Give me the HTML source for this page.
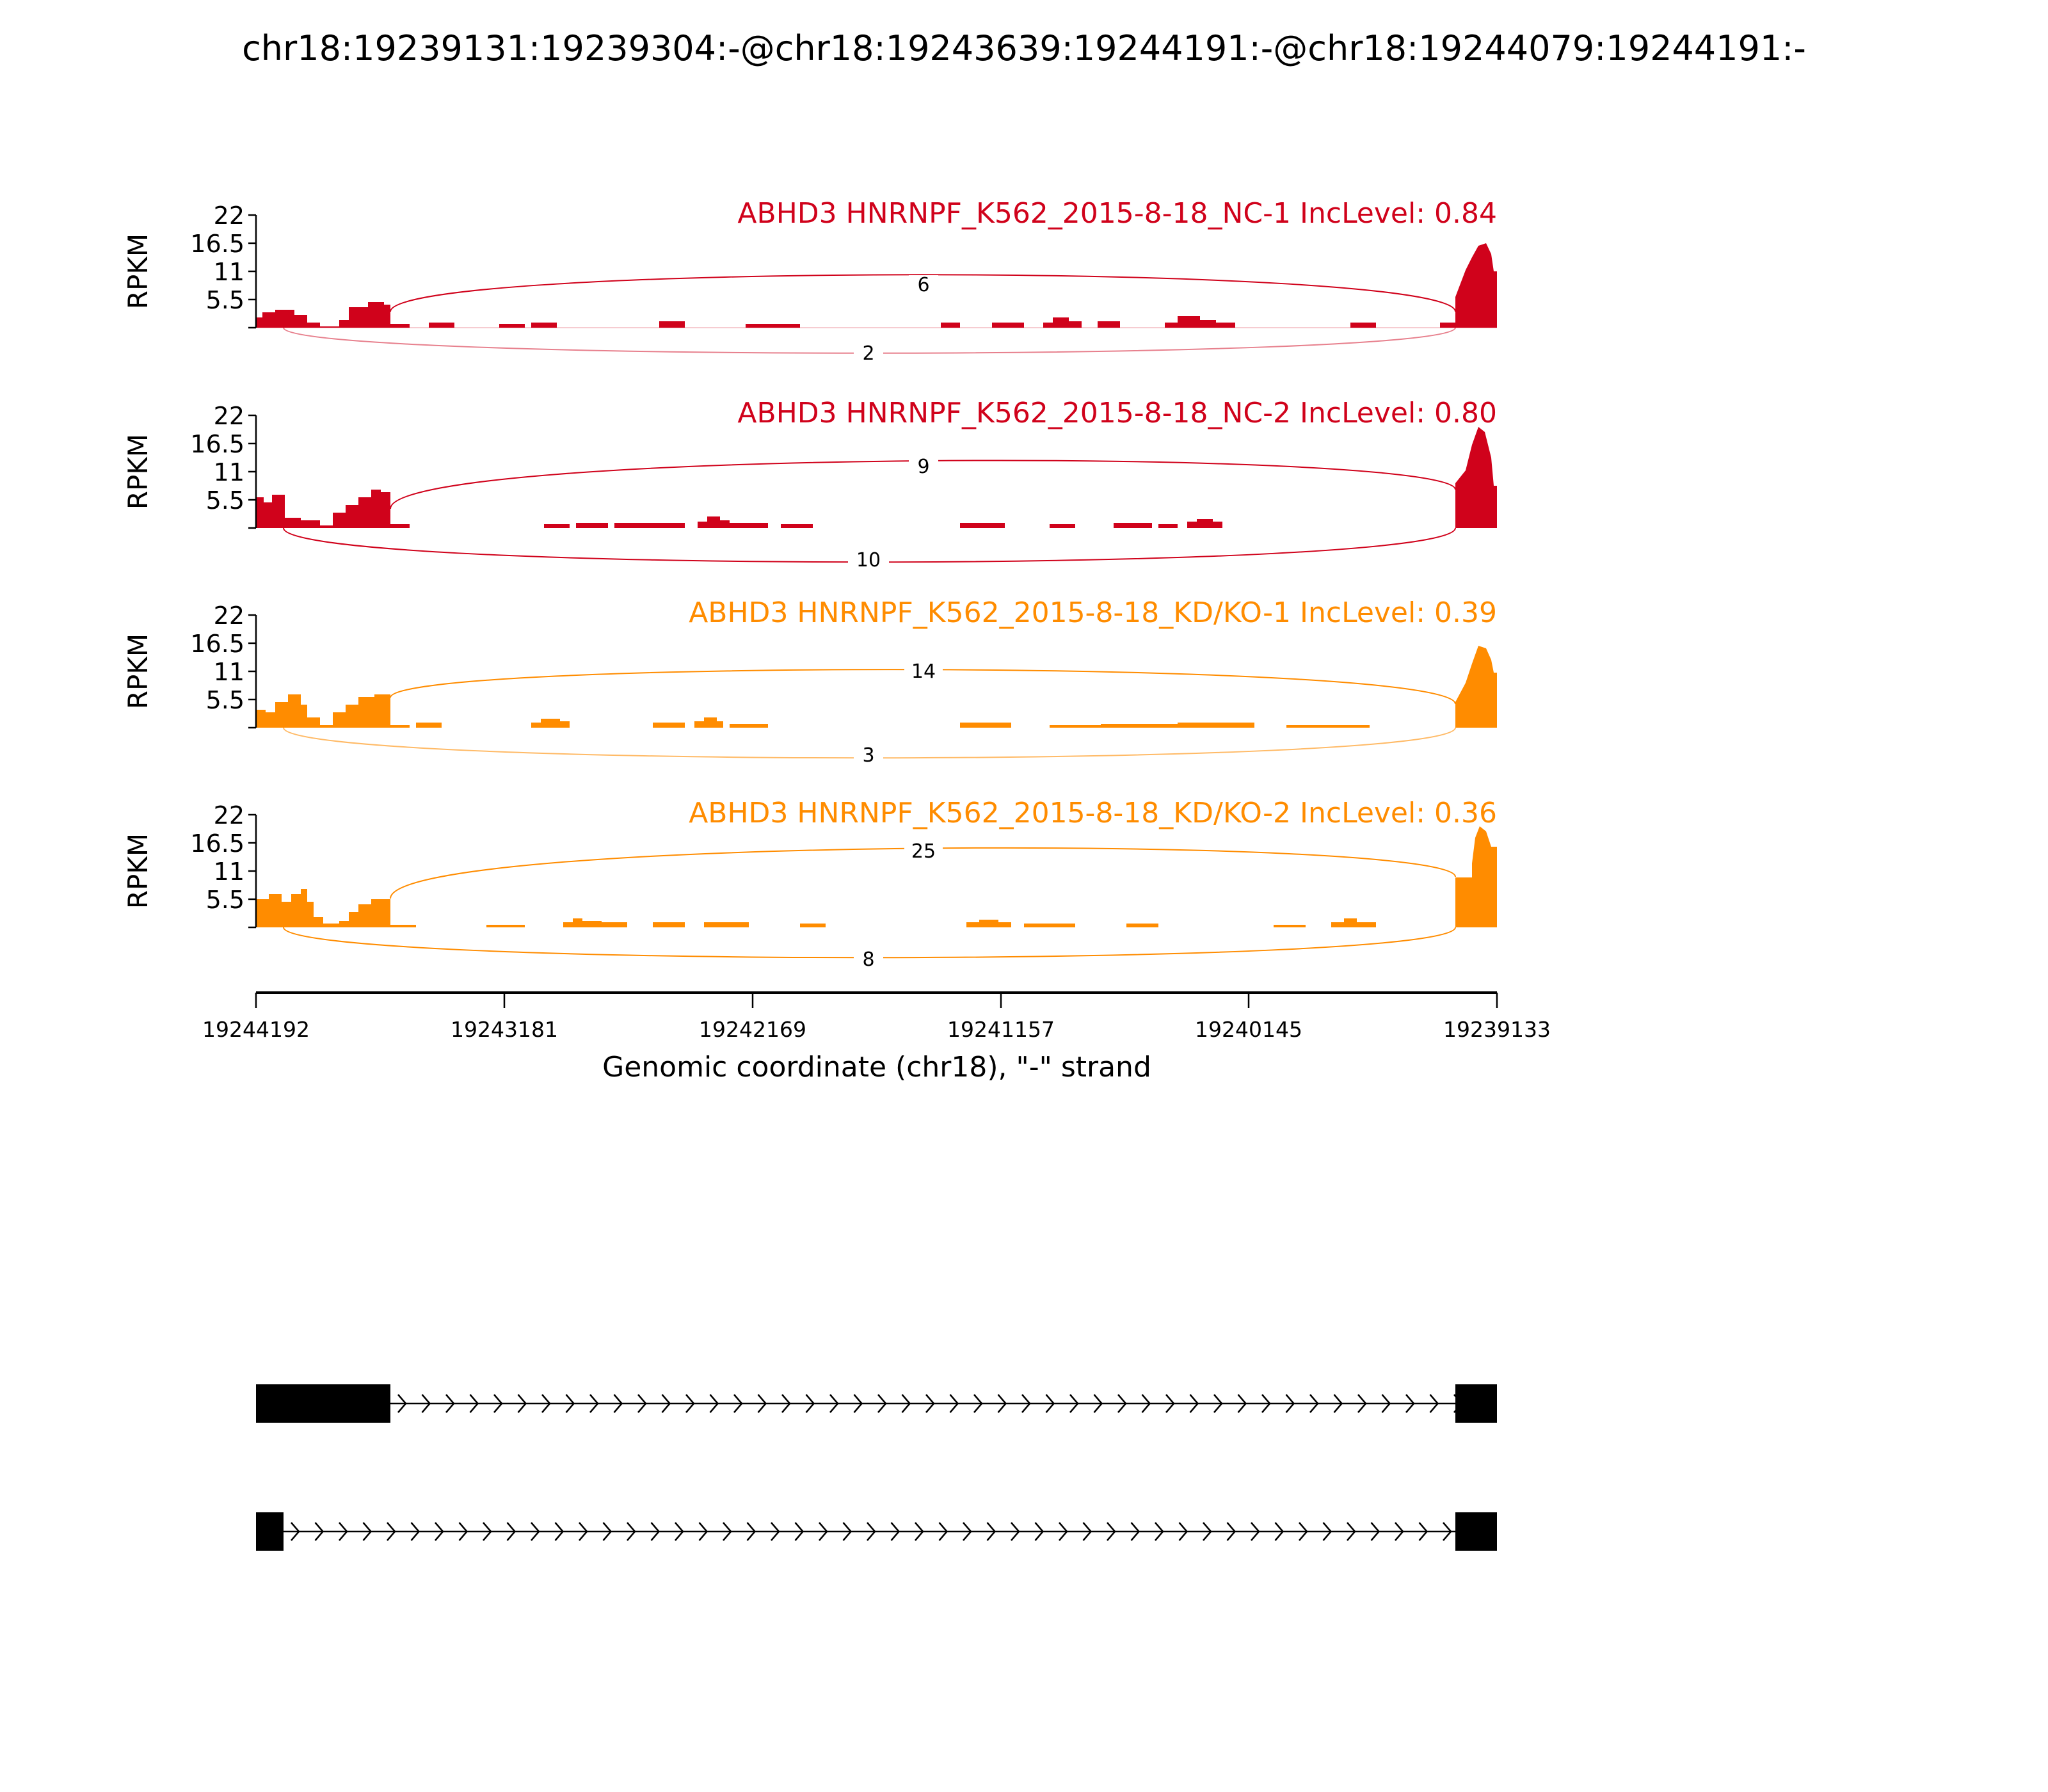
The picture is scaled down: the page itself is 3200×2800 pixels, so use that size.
<!DOCTYPE html>
<html><head><meta charset="utf-8"><style>html,body{margin:0;padding:0;background:#fff}svg{display:block}text{font-family:"DejaVu Sans","Liberation Sans",sans-serif}</style></head>
<body>
<svg xmlns="http://www.w3.org/2000/svg" width="3200" height="2800" viewBox="0 0 3200 2800">
<defs>
<pattern id="chev1" x="610" y="2173" width="37.5" height="40" patternUnits="userSpaceOnUse">
<path d="M12,6 L24,20 L12,34" fill="none" stroke="#000" stroke-width="2.5"/>
</pattern>
<pattern id="chev2" x="443" y="2373" width="37.5" height="40" patternUnits="userSpaceOnUse">
<path d="M12,6 L24,20 L12,34" fill="none" stroke="#000" stroke-width="2.5"/>
</pattern>
</defs>
<text x="1600" y="94" font-size="54" text-anchor="middle">chr18:19239131:19239304:-@chr18:19243639:19244191:-@chr18:19244079:19244191:-</text>

<!-- Panel 1 -->
<g transform="translate(0,512)" fill="#d0021b">
<path d="M400,0 V-16 H410 V-24 H430 V-28 H460 V-20 H480 V-8 H500 V-2 H530 V-12 H545 V-32 H575 V-40 H600 V-36 H610 V-6 H640 V0 Z"/>
<rect x="670" y="-8" width="40" height="8"/><rect x="780" y="-6" width="40" height="6"/><rect x="830" y="-8" width="40" height="8"/>
<rect x="1030" y="-10" width="40" height="10"/><rect x="1165" y="-6" width="85" height="6"/><rect x="1470" y="-8" width="30" height="8"/>
<rect x="1550" y="-8" width="50" height="8"/><path d="M1630,0 V-8 H1645 V-16 H1670 V-10 H1690 V0 Z"/><rect x="1715" y="-10" width="35" height="10"/>
<path d="M1820,0 V-8 H1840 V-18 H1875 V-12 H1900 V-8 H1930 V0 Z"/><rect x="2110" y="-8" width="40" height="8"/><rect x="2250" y="-8" width="24" height="8"/>
<path d="M2274,0 V-48 L2290,-90 L2300,-110 L2310,-128 L2322,-132 L2330,-115 L2334,-88 H2339 V0 Z"/>
<line x1="400" y1="0" x2="2339" y2="0" stroke="#d0021b" stroke-width="1" opacity="0.4"/>
</g>
<g fill="none" stroke="#d0021b" stroke-width="2">
<path d="M610,487 C610,410 2274,410 2274,487"/>
<path d="M443,512 C443,565 2274,565 2274,512" opacity="0.5"/>
</g>
<rect x="1420" y="430" width="46" height="30" fill="#fff"/><text x="1443" y="455" font-size="30" text-anchor="middle">6</text>
<rect x="1334" y="537" width="46" height="30" fill="#fff"/><text x="1357" y="562" font-size="30" text-anchor="middle">2</text>
<text x="2339" y="348" font-size="44" text-anchor="end" fill="#d0021b">ABHD3 HNRNPF_K562_2015-8-18_NC-1 IncLevel: 0.84</text>

<!-- Panel 2 -->
<g transform="translate(0,825)" fill="#d0021b">
<path d="M400,0 V-48 H412 V-40 H425 V-52 H445 V-16 H470 V-12 H500 V-4 H520 V-24 H540 V-36 H560 V-48 H580 V-60 H595 V-56 H610 V-6 H640 V0 Z"/>
<rect x="850" y="-6" width="40" height="6"/><rect x="900" y="-8" width="50" height="8"/><rect x="960" y="-8" width="110" height="8"/>
<path d="M1090,0 V-10 H1105 V-18 H1125 V-12 H1140 V-8 H1200 V0 Z"/><rect x="1220" y="-6" width="50" height="6"/>
<rect x="1500" y="-8" width="70" height="8"/><rect x="1640" y="-6" width="40" height="6"/><rect x="1740" y="-8" width="60" height="8"/>
<rect x="1810" y="-6" width="30" height="6"/><path d="M1855,0 V-10 H1870 V-14 H1895 V-10 H1910 V0 Z"/>
<path d="M2274,0 V-70 L2290,-90 L2300,-130 L2310,-158 L2320,-150 L2330,-110 L2334,-66 H2339 V0 Z"/>
</g>
<g fill="none" stroke="#d0021b" stroke-width="2">
<path d="M610,795 C610,700 2274,700 2274,765"/>
<path d="M443,825 C443,896 2274,896 2274,825"/>
</g>
<rect x="1420" y="714" width="46" height="30" fill="#fff"/><text x="1443" y="739" font-size="30" text-anchor="middle">9</text>
<rect x="1325" y="860" width="64" height="30" fill="#fff"/><text x="1357" y="885" font-size="30" text-anchor="middle">10</text>
<text x="2339" y="660" font-size="44" text-anchor="end" fill="#d0021b">ABHD3 HNRNPF_K562_2015-8-18_NC-2 IncLevel: 0.80</text>

<!-- Panel 3 -->
<g transform="translate(0,1137)" fill="#ff8c00">
<path d="M400,0 V-28 H415 V-24 H430 V-40 H450 V-52 H470 V-36 H480 V-16 H500 V-4 H520 V-24 H540 V-36 H560 V-48 H585 V-52 H610 V-4 H640 V0 Z"/>
<rect x="650" y="-8" width="40" height="8"/><path d="M830,0 V-8 H845 V-14 H875 V-10 H890 V0 Z"/><rect x="1020" y="-8" width="50" height="8"/>
<path d="M1085,0 V-10 H1100 V-16 H1120 V-10 H1130 V0 Z"/><rect x="1140" y="-6" width="60" height="6"/>
<rect x="1500" y="-8" width="80" height="8"/><rect x="1640" y="-4" width="80" height="4"/><rect x="1720" y="-6" width="80" height="6"/>
<rect x="1800" y="-6" width="40" height="6"/><rect x="1840" y="-8" width="120" height="8"/><rect x="2010" y="-4" width="130" height="4"/>
<path d="M2274,0 V-40 L2290,-70 L2300,-100 L2310,-128 L2322,-124 L2330,-106 L2334,-86 H2339 V0 Z"/>
</g>
<g fill="none" stroke="#ff8c00" stroke-width="2">
<path d="M610,1090 C610,1030 2274,1030 2274,1100"/>
<path d="M443,1137 C443,1200 2274,1200 2274,1137" opacity="0.6"/>
</g>
<rect x="1413" y="1034" width="60" height="30" fill="#fff"/><text x="1443" y="1059" font-size="30" text-anchor="middle">14</text>
<rect x="1334" y="1165" width="46" height="30" fill="#fff"/><text x="1357" y="1190" font-size="30" text-anchor="middle">3</text>
<text x="2339" y="972" font-size="44" text-anchor="end" fill="#ff8c00">ABHD3 HNRNPF_K562_2015-8-18_KD/KO-1 IncLevel: 0.39</text>

<!-- Panel 4 -->
<g transform="translate(0,1449)" fill="#ff8c00">
<path d="M400,0 V-44 H420 V-52 H440 V-40 H455 V-52 H470 V-60 H480 V-40 H490 V-16 H505 V-6 H530 V-10 H545 V-24 H560 V-36 H580 V-44 H610 V-4 H650 V0 Z"/>
<rect x="760" y="-4" width="60" height="4"/><path d="M880,0 V-8 H895 V-14 H910 V-10 H940 V0 Z"/><rect x="940" y="-8" width="40" height="8"/>
<rect x="1020" y="-8" width="50" height="8"/><rect x="1100" y="-8" width="70" height="8"/><rect x="1250" y="-6" width="40" height="6"/>
<path d="M1510,0 V-8 H1530 V-12 H1560 V-8 H1580 V0 Z"/><rect x="1600" y="-6" width="80" height="6"/><rect x="1760" y="-6" width="50" height="6"/>
<rect x="1990" y="-4" width="50" height="4"/><path d="M2080,0 V-8 H2100 V-14 H2120 V-8 H2150 V0 Z"/>
<path d="M2274,0 V-78 H2300 V-100 L2305,-140 L2312,-158 L2322,-150 L2330,-126 H2339 V0 Z"/>
</g>
<g fill="none" stroke="#ff8c00" stroke-width="2">
<path d="M610,1404 C610,1305 2274,1305 2274,1370"/>
<path d="M443,1449 C443,1512 2274,1512 2274,1449"/>
</g>
<rect x="1413" y="1315" width="60" height="30" fill="#fff"/><text x="1443" y="1340" font-size="30" text-anchor="middle">25</text>
<rect x="1334" y="1484" width="46" height="30" fill="#fff"/><text x="1357" y="1509" font-size="30" text-anchor="middle">8</text>
<text x="2339" y="1285" font-size="44" text-anchor="end" fill="#ff8c00">ABHD3 HNRNPF_K562_2015-8-18_KD/KO-2 IncLevel: 0.36</text>

<!-- Y axes -->
<g stroke="#000" stroke-width="2.5" fill="none">
<path d="M400,336 V512 M388,336 H400 M388,380 H400 M388,424 H400 M388,468 H400 M388,512 H400"/>
<path d="M400,649 V825 M388,649 H400 M388,693 H400 M388,737 H400 M388,781 H400 M388,825 H400"/>
<path d="M400,961 V1137 M388,961 H400 M388,1005 H400 M388,1049 H400 M388,1093 H400 M388,1137 H400"/>
<path d="M400,1273 V1449 M388,1273 H400 M388,1317 H400 M388,1361 H400 M388,1405 H400 M388,1449 H400"/>
</g>
<g font-size="38" text-anchor="end">
<text x="382" y="350">22</text><text x="382" y="394">16.5</text><text x="382" y="438">11</text><text x="382" y="482">5.5</text>
<text x="382" y="663">22</text><text x="382" y="707">16.5</text><text x="382" y="751">11</text><text x="382" y="795">5.5</text>
<text x="382" y="975">22</text><text x="382" y="1019">16.5</text><text x="382" y="1063">11</text><text x="382" y="1107">5.5</text>
<text x="382" y="1287">22</text><text x="382" y="1331">16.5</text><text x="382" y="1375">11</text><text x="382" y="1419">5.5</text>
</g>
<g font-size="42" text-anchor="middle">
<text transform="translate(230,424) rotate(-90)">RPKM</text>
<text transform="translate(230,737) rotate(-90)">RPKM</text>
<text transform="translate(230,1049) rotate(-90)">RPKM</text>
<text transform="translate(230,1361) rotate(-90)">RPKM</text>
</g>

<!-- X axis -->
<g stroke="#000" stroke-width="2.5">
<line x1="400" y1="1551" x2="2339" y2="1551" stroke-width="4"/>
<line x1="400" y1="1551" x2="400" y2="1575"/><line x1="788" y1="1551" x2="788" y2="1575"/><line x1="1176" y1="1551" x2="1176" y2="1575"/>
<line x1="1564" y1="1551" x2="1564" y2="1575"/><line x1="1951" y1="1551" x2="1951" y2="1575"/><line x1="2339" y1="1551" x2="2339" y2="1575"/>
</g>
<g font-size="33" text-anchor="middle">
<text x="400" y="1620">19244192</text><text x="788" y="1620">19243181</text><text x="1176" y="1620">19242169</text>
<text x="1564" y="1620">19241157</text><text x="1951" y="1620">19240145</text><text x="2339" y="1620">19239133</text>
</g>
<text x="1370" y="1682" font-size="44" text-anchor="middle">Genomic coordinate (chr18), "-" strand</text>

<!-- Gene models -->
<rect x="400" y="2163" width="210" height="60" fill="#000"/>
<rect x="2274" y="2163" width="65" height="60" fill="#000"/>
<line x1="610" y1="2193" x2="2274" y2="2193" stroke="#000" stroke-width="2.5"/>
<rect x="610" y="2173" width="1664" height="40" fill="url(#chev1)"/>
<rect x="400" y="2363" width="43" height="60" fill="#000"/>
<rect x="2274" y="2363" width="65" height="60" fill="#000"/>
<line x1="443" y1="2393" x2="2274" y2="2393" stroke="#000" stroke-width="2.5"/>
<rect x="443" y="2373" width="1831" height="40" fill="url(#chev2)"/>
</svg>
</body></html>
